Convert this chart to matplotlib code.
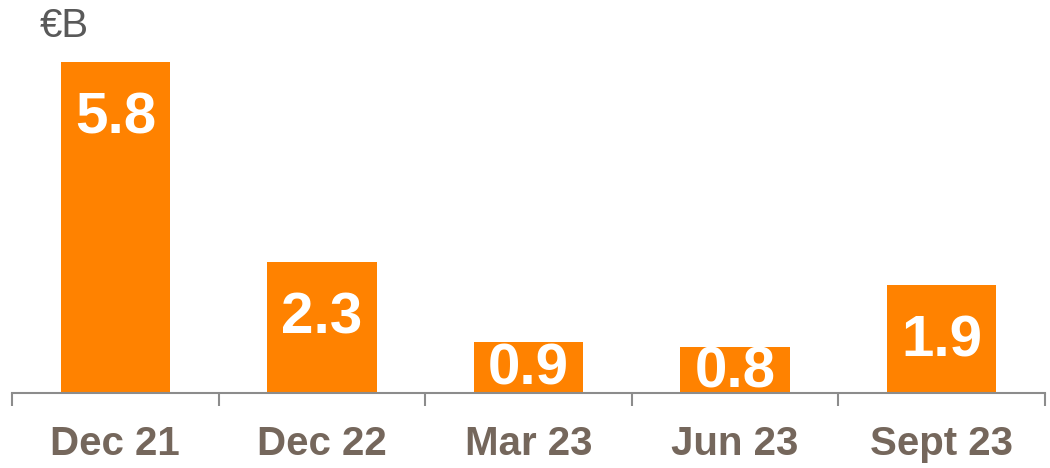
import matplotlib
matplotlib.use('Agg')
from matplotlib import pyplot as plt
import numpy as np

categories = ['Dec 21', 'Dec 22', 'Mar 23', 'Jun 23', 'Sept 23']
values = [5.8, 2.3, 0.9, 0.8, 1.9]
value_labels = ['5.8', '2.3', '0.9', '0.8', '1.9']

ORANGE = '#FF8200'
TEXT = '#75675C'
AXIS = '#8C8C8C'

plt.rcParams['font.family'] = ['Liberation Sans', 'DejaVu Sans']

fig = plt.figure(figsize=(10.5, 4.68), dpi=100)
# axes: left edge at px 12, right at 1045, baseline at px 393
ax = fig.add_axes([12 / 1050, 75 / 468, 1033 / 1050, 363 / 468])

x = np.arange(len(categories))
ax.bar(x, values, width=0.53, color=ORANGE, zorder=2)

for xi, v, lab in zip(x, values, value_labels):
    y = max(v - 1.0, v * 0.45)
    ax.text(xi, y, lab, ha='center', va='center', color='white',
            fontsize=42, fontweight='bold', zorder=3)

ax.set_xlim(-0.5, len(categories) - 0.5)
ax.set_ylim(0, 363 / 57.1)

for s in ['top', 'right', 'left']:
    ax.spines[s].set_visible(False)
ax.spines['bottom'].set_color(AXIS)
ax.spines['bottom'].set_linewidth(1.5)
ax.spines['bottom'].set_zorder(4)

ax.set_yticks([])
ax.set_xticks(np.arange(-0.5, len(categories)))
ax.set_xticklabels([])
ax.tick_params(axis='x', which='major', direction='out', length=9,
               width=1.5, color=AXIS)
ax.set_xticks(x, minor=True)
ax.set_xticklabels(categories, minor=True)
ax.tick_params(axis='x', which='minor', length=0, pad=23,
               labelsize=29, labelcolor=TEXT)
for t in ax.get_xticklabels(minor=True):
    t.set_fontweight('bold')

fig.text(40 / 1050, 1 - 26 / 468, '€B', fontsize=29, color='#595959',
         ha='left', va='center')

plt.savefig('out.png', dpi=100)
